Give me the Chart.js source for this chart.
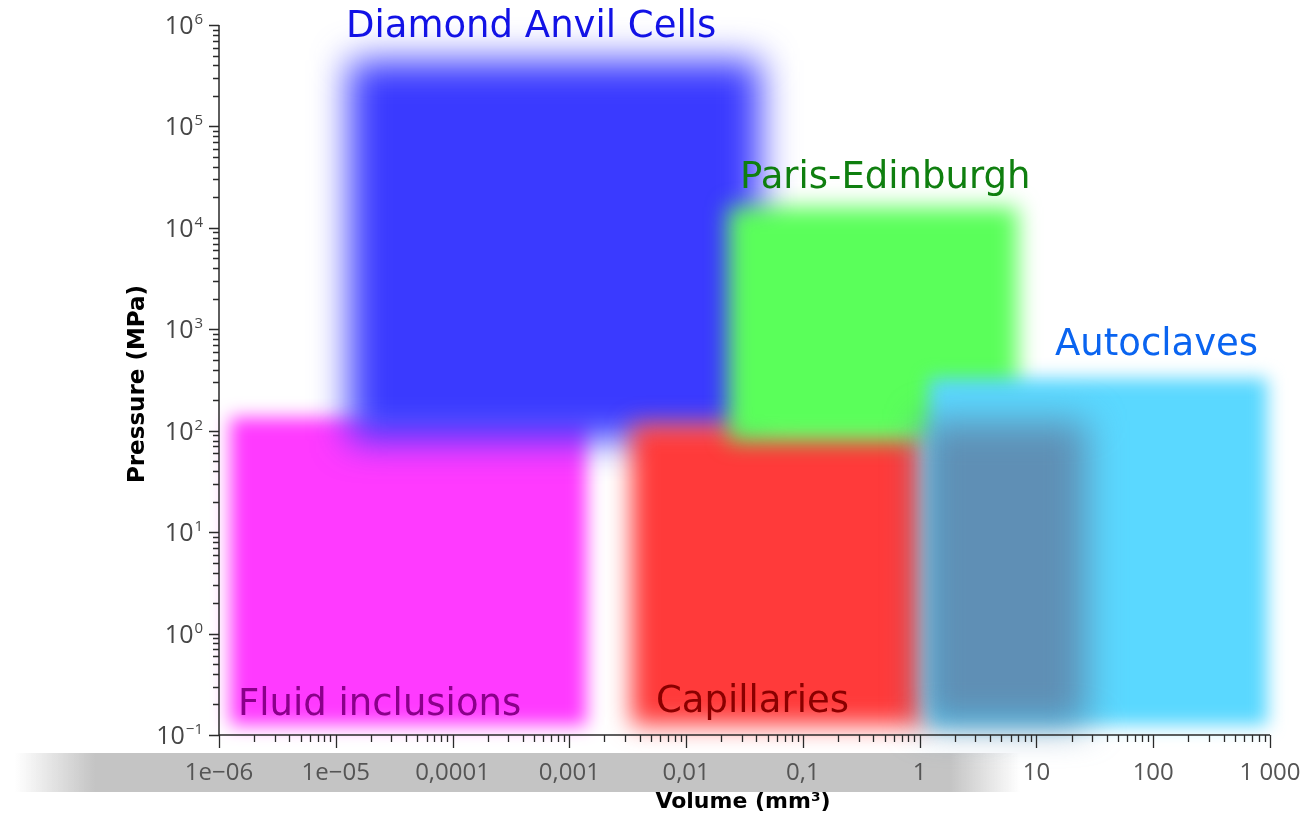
<!DOCTYPE html>
<html><head><meta charset="utf-8">
<script src="https://cdn.jsdelivr.net/npm/chart.js@4.4.1/dist/chart.umd.min.js"></script>
<style>html,body{margin:0;padding:0;background:#fff;}canvas{display:block}</style>
</head><body>
<canvas id="c" width="1307" height="826"></canvas>
<script>
// ---- data ----
const categories  = ['Fluid inclusions', 'Diamond Anvil Cells', 'Capillaries', 'Paris-Edinburgh', 'Autoclaves', 'Capillaries / Autoclaves overlap'];
const volumeMin   = [1.25e-6, 1.3e-5, 0.0034, 0.023, 1.2, 1.05];  // mm3
const volumeMax   = [0.0014, 0.043, 1.1, 6.9, 950, 27];            // mm3
const pressureMin = [0.125, 80, 0.125, 80, 0.125, 0.125];          // MPa
const pressureMax = [135, 4.5e5, 115, 1.6e4, 330, 125];            // MPa
const xTickValues = [1e-6, 1e-5, 1e-4, 1e-3, 1e-2, 1e-1, 1, 10, 100, 1000];
const xTickLabels = ['1e\u221206', '1e\u221205', '0,0001', '0,001', '0,01', '0,1', '1', '10', '100', '1 000'];
const yTickExponents = [-1, 0, 1, 2, 3, 4, 5, 6];

// ---- styles ----
const drawOrder = [0, 1, 2, 3, 4, 5];
const boxColors = ['#ff3aff', '#3a3aff', '#ff3a3a', '#5aff5a', '#5ad8ff', '#5f8fb5'];
const boxBlur   = [9, 18, 12, 11, 9, 18];
const labelStyle = [
  {text: 0, x: 238, y: 715, color: '#8a008a'},
  {text: 1, x: 346, y: 37,  color: '#1212e6'},
  {text: 2, x: 656, y: 712, color: '#8a0000'},
  {text: 3, x: 740, y: 188, color: '#0f7f0f'},
  {text: 4, x: 1055, y: 355, color: '#0a64f0'}
];

const bgPlugin = {
  id: 'band',
  beforeDraw(chart) {
    const c = chart.ctx;
    c.save();
    const g = c.createLinearGradient(0, 0, 1307, 0);
    g.addColorStop(0, 'rgba(196,196,196,0)');
    g.addColorStop(15/1307, 'rgba(196,196,196,0)');
    g.addColorStop(95/1307, 'rgba(196,196,196,1)');
    g.addColorStop(950/1307, 'rgba(196,196,196,1)');
    g.addColorStop(1020/1307, 'rgba(196,196,196,0)');
    g.addColorStop(1, 'rgba(196,196,196,0)');
    c.fillStyle = g;
    c.fillRect(0, 753, 1307, 39);
    c.restore();
  }
};

const boxPlugin = {
  id: 'boxes',
  beforeDatasetsDraw(chart) {
    const c = chart.ctx, xs = chart.scales.x, ys = chart.scales.y;
    drawOrder.forEach(i => {
      const x0 = xs.getPixelForValue(volumeMin[i]);
      const x1 = xs.getPixelForValue(volumeMax[i]);
      const y0 = ys.getPixelForValue(pressureMax[i]);
      const y1 = ys.getPixelForValue(pressureMin[i]);
      c.save();
      c.filter = 'blur(' + boxBlur[i] + 'px)';
      c.fillStyle = boxColors[i];
      c.fillRect(x0, y0, x1 - x0, y1 - y0);
      c.restore();
    });
  }
};

const axisPlugin = {
  id: 'axes',
  afterDraw(chart) {
    const c = chart.ctx, xs = chart.scales.x, ys = chart.scales.y, a = chart.chartArea;
    c.save();
    c.strokeStyle = '#2a2a2a';
    c.lineWidth = 1.5;
    c.beginPath();
    c.moveTo(a.left, a.top); c.lineTo(a.left, a.bottom); c.lineTo(a.right, a.bottom);
    c.stroke();
    c.lineWidth = 1.3;
    c.beginPath();
    for (let e = -6; e <= 3; e++) {
      for (let k = 1; k <= 9; k++) {
        const v = k * Math.pow(10, e);
        if (v > 1000 * 1.0001) continue;
        const px = Math.round(xs.getPixelForValue(v)) + 0.5;
        const len = k === 1 ? 13 : 7;
        c.moveTo(px, a.bottom); c.lineTo(px, a.bottom + len);
      }
    }
    for (let e = -1; e <= 6; e++) {
      for (let k = 1; k <= 9; k++) {
        const v = k * Math.pow(10, e);
        if (v > 1e6 * 1.0001) continue;
        const py = Math.round(ys.getPixelForValue(v)) + 0.5;
        const len = k === 1 ? 10 : 6;
        c.moveTo(a.left, py); c.lineTo(a.left - len, py);
      }
    }
    c.stroke();

    c.fillStyle = '#555';
    c.font = '24px "Open Sans"';
    c.textAlign = 'center';
    c.textBaseline = 'middle';
    xTickValues.forEach((v, i) => {
      c.fillText(xTickLabels[i], xs.getPixelForValue(v), 773);
    });

    c.fillStyle = '#474747';
    c.textBaseline = 'alphabetic';
    yTickExponents.forEach(e => {
      const py = ys.getPixelForValue(Math.pow(10, e));
      const sup = e < 0 ? '\u2212' + Math.abs(e) : String(e);
      c.font = '15px "Open Sans"';
      c.textAlign = 'right';
      const rightX = 203;
      c.fillText(sup, rightX, py - 1);
      const w = c.measureText(sup).width;
      c.font = '25px "Open Sans"';
      c.fillText('10', rightX - w - 1, py + 9);
    });

    c.fillStyle = '#000';
    c.font = 'bold 22px "DejaVu Sans"';
    c.textAlign = 'center';
    c.fillText('Volume (mm\u00b3)', 743, 808);
    c.save();
    c.translate(144, 384);
    c.rotate(-Math.PI / 2);
    c.font = 'bold 23px "DejaVu Sans"';
    c.fillText('Pressure (MPa)', 0, 0);
    c.restore();

    c.font = '37px "DejaVu Sans"';
    c.textAlign = 'left';
    labelStyle.forEach(l => {
      c.fillStyle = l.color;
      c.fillText(categories[l.text], l.x, l.y);
    });
    c.restore();
  }
};

new Chart(document.getElementById('c').getContext('2d'), {
  type: 'scatter',
  data: {
    datasets: categories.map((name, i) => ({
      label: name,
      data: [{x: volumeMin[i], y: pressureMin[i]}, {x: volumeMax[i], y: pressureMax[i]}],
      pointRadius: 0,
      showLine: false
    }))
  },
  options: {
    responsive: false,
    animation: false,
    events: [],
    layout: {padding: {left: 219, right: 37, top: 25, bottom: 91}},
    plugins: {legend: {display: false}, tooltip: {enabled: false}},
    scales: {
      x: {type: 'logarithmic', min: 1e-6, max: 1000, display: false},
      y: {type: 'logarithmic', min: 0.1, max: 1e6, display: false}
    }
  },
  plugins: [bgPlugin, boxPlugin, axisPlugin]
});
</script>
</body></html>
